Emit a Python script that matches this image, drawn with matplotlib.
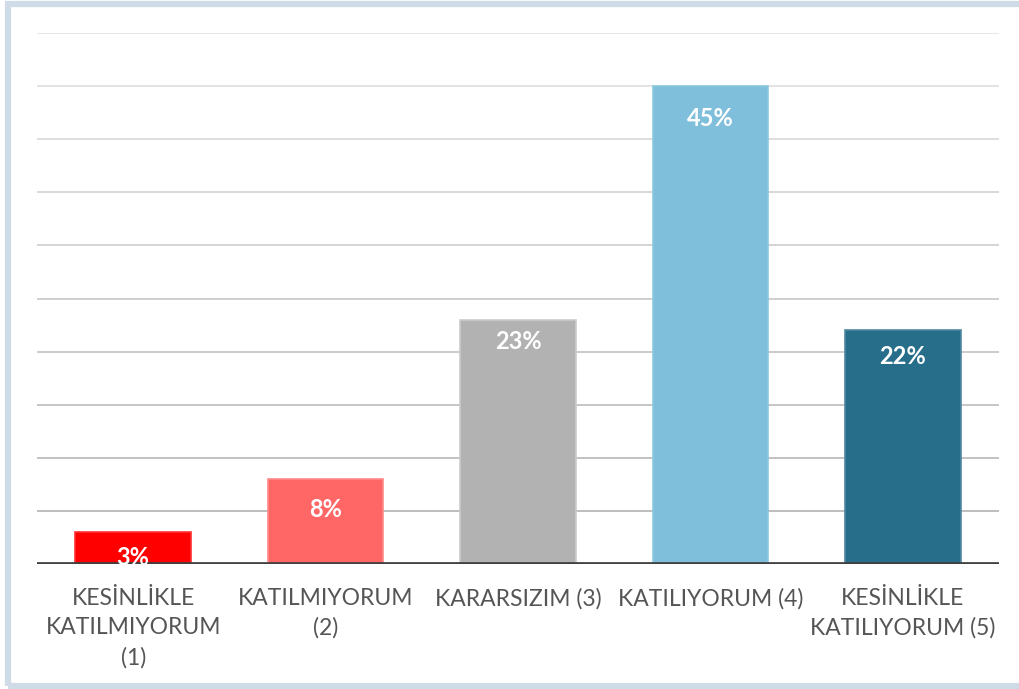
import matplotlib
matplotlib.use("Agg")
import matplotlib.pyplot as plt
from matplotlib.patches import Rectangle
import numpy as np

categories = [
    "KESİNLİKLE\nKATILMIYORUM\n(1)",
    "KATILMIYORUM\n(2)",
    "KARARSIZIM (3)",
    "KATILIYORUM (4)",
    "KESİNLİKLE\nKATILIYORUM (5)",
]
percentages = [3, 8, 23, 45, 22]
value_labels = ["3%", "8%", "23%", "45%", "22%"]

bar_colors = ["#ff0000", "#ff6666", "#b2b2b2", "#7fbfdb", "#276e8a"]
edge_colors = ["#ff3030", "#ff8a8a", "#cbcbcb", "#8cc8e0", "#4f88a0"]
label_drop_pt = [18, 22, 16, 23, 19]

W, H = 1020, 689
fig = plt.figure(figsize=(W / 100, H / 100), dpi=100)
fig.patch.set_facecolor("white")

# light frame around the figure
fig.patches.append(Rectangle((8 / W, 3 / H), (1030 - 8) / W, (685 - 3) / H,
                             transform=fig.transFigure, fill=False,
                             edgecolor="#cfdbe6", linewidth=4.5, zorder=0))

ax = fig.add_axes([37 / W, 1 - 564 / H, (999 - 37) / W, (564 - 33) / H])
ax.set_xlim(-0.5, len(categories) - 0.5)
ax.set_ylim(0, 50)

# horizontal grid, fading towards the top
grid_vals = np.arange(5, 51, 5)
for v in grid_vals:
    t = v / 50
    g = 0.70 + 0.20 * t
    ax.axhline(v, color=(g, g, g), linewidth=1.3, zorder=0)

x = np.arange(len(categories))
ax.bar(x, percentages, width=0.6, color=bar_colors, edgecolor=edge_colors,
       linewidth=1.2, zorder=2)

ax.axhline(0, color="#404040", linewidth=3.4, zorder=3)

for xi, val, lab, drop in zip(x, percentages, value_labels, label_drop_pt):
    ax.annotate(lab, xy=(xi, val), xytext=(0, -drop), textcoords="offset points",
                ha="center", va="center", color="white", fontsize=17,
                fontweight="bold", family="Lato", zorder=4)

for s in ax.spines.values():
    s.set_visible(False)
ax.set_yticks([])
ax.set_xticks(x)
ax.set_xticklabels(categories, family="Lato", fontsize=16.5, color="#555555",
                   fontweight="normal", linespacing=1.5)
ax.tick_params(axis="x", length=0, pad=17)

fig.savefig("out.png", dpi=100)
